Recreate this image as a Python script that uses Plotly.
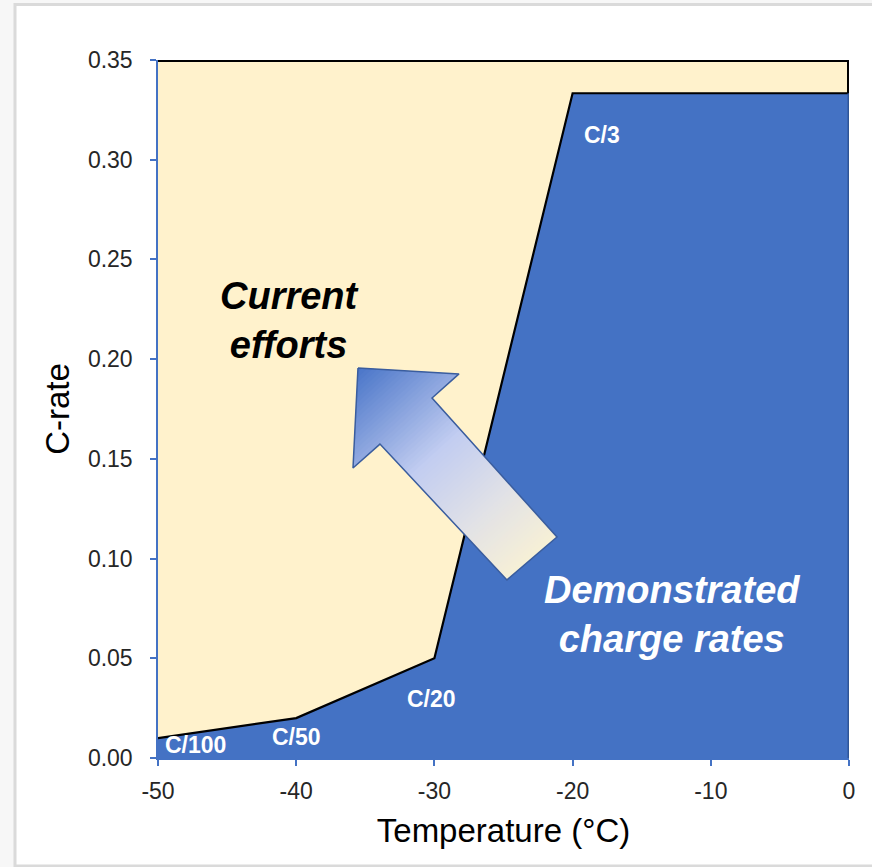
import numpy as np
import plotly.graph_objects as go

# ---- data -------------------------------------------------------------
temps = [-50, -40, -30, -20, 0]                # temperature (°C)
divisors = [100, 50, 20, 3, 3]                 # demonstrated charge rate C/n
rates = [1 / d for d in divisors]
rate_labels = ["C/100", "C/50", "C/20", "C/3"]
label_x = [-47.3, -40.0, -30.2, -17.9]
label_y = [0.0065, 0.0105, 0.0296, 0.3124]

x_ticks = [-50, -40, -30, -20, -10, 0]
x_tick_text = ["-50", "-40", "-30", "-20", "-10", "0"]
y_ticks = [0.00, 0.05, 0.10, 0.15, 0.20, 0.25, 0.30, 0.35]
x_range = [-50, 0]
y_range = [0, 0.35]

BLUE = "#4472C4"
CREAM = "#FFF2CC"
FONT = "Liberation Sans, Arial, sans-serif"

W, H = 872, 867
M = dict(l=158, r=23, t=60, b=109)
plot_w = W - M["l"] - M["r"]
plot_h = H - M["t"] - M["b"]

fig = go.Figure()

# cream region: everything up to the top of the axis
fig.add_trace(go.Scatter(
    x=[x_range[0], x_range[1]], y=[y_range[1], y_range[1]],
    fill="tozeroy", fillcolor=CREAM, mode="lines",
    line=dict(color="black", width=4), hoverinfo="skip", showlegend=False))
fig.add_trace(go.Scatter(
    x=[x_range[1], x_range[1]], y=[y_range[1], rates[-1]], mode="lines",
    line=dict(color="black", width=4), hoverinfo="skip", showlegend=False))

# demonstrated charge rates
fig.add_trace(go.Scatter(
    x=temps, y=rates, fill="tozeroy", fillcolor=BLUE, mode="lines",
    line=dict(color="black", width=2.2), hoverinfo="skip", showlegend=False))
fig.add_trace(go.Scatter(
    x=[x_range[1], x_range[1]], y=[rates[-1], 0], mode="lines",
    line=dict(color="#2F5597", width=3), hoverinfo="skip", showlegend=False))

# ---- block arrow with a linear gradient ------------------------------
arrow = np.array([
    [-35.53, 0.1956],   # tip
    [-28.22, 0.1926],   # right wing
    [-30.17, 0.1805],   # shaft joint
    [-21.13, 0.1108],   # tail
    [-24.75, 0.0893],   # tail
    [-33.94, 0.1574],   # shaft joint
    [-35.89, 0.1454],   # left wing
])
sx = plot_w / (x_range[1] - x_range[0])
sy = plot_h / (y_range[1] - y_range[0])
scale = np.array([sx, sy])
pts = arrow * scale                      # work in screen-like units

tip = pts[0]
tail_mid = (pts[3] + pts[4]) / 2
d = tail_mid - tip
d = d / np.linalg.norm(d)
proj = pts @ d
t0, t1 = proj.min(), proj.max()

stops = [(0.0, (72, 116, 200)), (0.45, (194, 205, 241)),
         (0.75, (226, 226, 230)), (1.0, (247, 240, 214))]


def grad_color(t):
    for (a, ca), (b, cb) in zip(stops[:-1], stops[1:]):
        if a <= t <= b:
            f = (t - a) / (b - a)
            c = [round(ca[i] + (cb[i] - ca[i]) * f) for i in range(3)]
            return f"rgb({c[0]},{c[1]},{c[2]})"
    c = stops[-1][1]
    return f"rgb({c[0]},{c[1]},{c[2]})"


def clip(poly, n, c):
    """Keep the part of poly where p·n >= c (Sutherland–Hodgman)."""
    out = []
    k = len(poly)
    for i in range(k):
        p, q = poly[i], poly[(i + 1) % k]
        dp, dq = p @ n - c, q @ n - c
        if dp >= 0:
            out.append(p)
        if (dp >= 0) != (dq >= 0):
            f = dp / (dp - dq)
            out.append(p + (q - p) * f)
    return out


N = 70
edges = np.linspace(t0, t1, N + 1)
for i in range(N):
    lo = edges[i] - 0.6
    hi = edges[i + 1] + 0.6
    piece = clip(list(pts), d, lo)
    if piece:
        piece = clip(piece, -d, -hi)
    if len(piece) < 3:
        continue
    piece = np.array(piece) / scale
    t_mid = ((edges[i] + edges[i + 1]) / 2 - t0) / (t1 - t0)
    fig.add_trace(go.Scatter(
        x=np.append(piece[:, 0], piece[0, 0]),
        y=np.append(piece[:, 1], piece[0, 1]),
        fill="toself", fillcolor=grad_color(t_mid),
        mode="lines", line=dict(width=0), hoverinfo="skip", showlegend=False))

fig.add_trace(go.Scatter(
    x=np.append(arrow[:, 0], arrow[0, 0]), y=np.append(arrow[:, 1], arrow[0, 1]),
    mode="lines", line=dict(color="#3A5D9E", width=1.5),
    hoverinfo="skip", showlegend=False))

# ---- text -------------------------------------------------------------
for lab, lx, ly in zip(rate_labels, label_x, label_y):
    fig.add_annotation(x=lx, y=ly, text=f"<b>{lab}</b>", showarrow=False,
                       font=dict(family=FONT, size=23, color="white"))

fig.add_annotation(x=-40.45, y=0.2196, text="<b><i>Current<br>efforts</i></b>",
                   showarrow=False, font=dict(family=FONT, size=38, color="black"))
fig.add_annotation(x=-12.8, y=0.0722,
                   text="<b><i>Demonstrated<br>charge rates</i></b>",
                   showarrow=False, font=dict(family=FONT, size=38, color="white"))

# ---- frame ------------------------------------------------------------
fig.add_shape(type="rect", xref="paper", yref="paper", layer="below",
              x0=(15 - M["l"]) / plot_w, x1=(900 - M["l"]) / plot_w,
              y0=(M["t"] + plot_h - 866) / plot_h, y1=(M["t"] + plot_h - 4.5) / plot_h,
              fillcolor="white", line=dict(color="#DADADA", width=3))

axis_common = dict(showgrid=False, zeroline=False, showline=True, linecolor=BLUE,
                   linewidth=1.5, ticks="outside", tickcolor=BLUE, ticklen=6,
                   tickwidth=1.5, tickfont=dict(family=FONT, size=23, color="#262626"))

fig.update_xaxes(range=x_range, tickvals=x_ticks, ticktext=x_tick_text,
                 ticklabelstandoff=6, **axis_common,
                 title=dict(text="Temperature (°C)", standoff=16,
                            font=dict(family=FONT, size=33, color="black")))
fig.update_yaxes(range=y_range, tickvals=y_ticks, tickformat=".2f",
                 ticklabelstandoff=13, **axis_common,
                 title=dict(text="C-rate", standoff=8,
                            font=dict(family=FONT, size=33, color="black")))

fig.update_layout(width=W, height=H, margin=M,
                  paper_bgcolor="#F7F7F7", plot_bgcolor="rgba(0,0,0,0)",
                  font=dict(family=FONT))

fig.write_html("out.html")
